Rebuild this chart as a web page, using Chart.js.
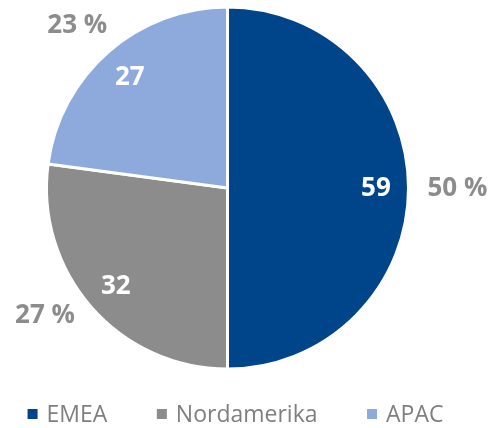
<!DOCTYPE html>
<html>
<head>
    <title>Regionen</title>
    <style>
        body { margin: 0; background: #fff; }
        .wrap { position: relative; width: 494px; height: 428px; }
    </style>
    <script src="https://cdn.jsdelivr.net/npm/chart.js"></script>
</head>
<body>
    <div class="wrap"><canvas id="pie" width="494" height="428"></canvas></div>
    <script>
        const regions = ['EMEA', 'Nordamerika', 'APAC'];
        const counts = [59, 32, 27];
        const sliceColors = ['#004589', '#8c8c8c', '#8eaadc'];

        // how far out (in radii) the outside percentage sits, x and y
        const pctReach = [[1.27, 1.0], [1.34, 1.06], [1.26, 1.2]];

        const total = counts.reduce((a, b) => a + b, 0);

        // values inside the slices, percentages outside
        const sliceLabels = {
            id: 'sliceLabels',
            afterDatasetsDraw(chart) {
                const ctx = chart.ctx;
                const arcs = chart.getDatasetMeta(0).data;
                ctx.save();
                ctx.font = 'bold 26px "Open Sans", sans-serif';
                ctx.textAlign = 'center';
                ctx.textBaseline = 'middle';
                arcs.forEach((arc, i) => {
                    const mid = (arc.startAngle + arc.endAngle) / 2;
                    const r = arc.outerRadius;
                    ctx.fillStyle = '#ffffff';
                    ctx.fillText(counts[i], arc.x + Math.cos(mid) * r * 0.82, arc.y + Math.sin(mid) * r * 0.82 + 1);
                    const pct = Math.round(counts[i] / total * 100) + ' %';
                    ctx.fillStyle = '#8c8c8c';
                    ctx.fillText(pct, arc.x + Math.cos(mid) * r * pctReach[i][0], arc.y + Math.sin(mid) * r * pctReach[i][1] + 1);
                });
                ctx.restore();
            }
        };

        // legend row under the pie, spaced wider than the built-in one allows
        const wideLegend = {
            id: 'wideLegend',
            afterDraw(chart) {
                const ctx = chart.ctx;
                const labels = chart.data.labels;
                const colors = chart.data.datasets[0].backgroundColor;
                const box = 10, textGap = 9, itemGap = 49.5, y = 414;
                ctx.save();
                ctx.font = '23px "Open Sans", sans-serif';
                ctx.textBaseline = 'middle';
                const widths = labels.map(t => box + textGap + ctx.measureText(t).width);
                const full = widths.reduce((a, b) => a + b, 0) + itemGap * (labels.length - 1);
                let x = 235.5 - full / 2;
                labels.forEach((t, i) => {
                    ctx.fillStyle = colors[i];
                    ctx.fillRect(x, y - box / 2, box, box);
                    ctx.fillStyle = '#7f7f7f';
                    ctx.fillText(t, x + box + textGap, y + 1);
                    x += widths[i] + itemGap;
                });
                ctx.restore();
            }
        };

        new Chart(document.getElementById('pie'), {
            type: 'pie',
            data: {
                labels: regions,
                datasets: [{
                    data: counts,
                    backgroundColor: sliceColors,
                    borderColor: '#ffffff',
                    borderWidth: 3
                }]
            },
            options: {
                responsive: false,
                animation: false,
                layout: { padding: { top: 5.5, left: 0, right: 39, bottom: 57.5 } },
                plugins: {
                    tooltip: { enabled: false },
                    legend: { display: false }
                }
            },
            plugins: [sliceLabels, wideLegend]
        });
    </script>
</body>
</html>
